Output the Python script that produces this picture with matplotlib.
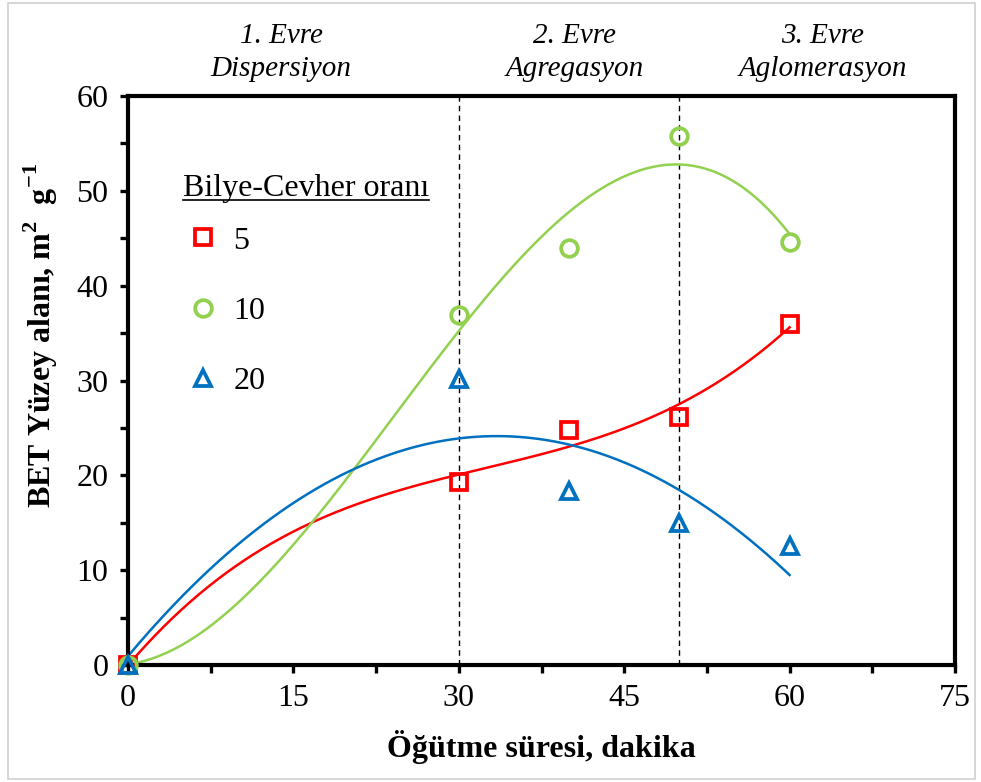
import numpy as np
import matplotlib
matplotlib.use("Agg")
import matplotlib.pyplot as plt
from matplotlib.ticker import MultipleLocator
from matplotlib.lines import Line2D
from matplotlib.patches import Rectangle

plt.rcParams['font.family'] = ['Liberation Serif', 'DejaVu Serif']
plt.rcParams['mathtext.fontset'] = 'custom'
plt.rcParams['mathtext.rm'] = 'Liberation Serif'
plt.rcParams['mathtext.bf'] = 'Liberation Serif:bold'

# Data
time_min = [0, 30, 40, 50, 60]
ratio_5 = [0.0, 19.3, 24.8, 26.1, 36.0]
ratio_10 = [0.0, 36.9, 44.0, 55.8, 44.6]
ratio_20 = [0.0, 30.2, 18.3, 15.0, 12.5]
series_labels = ['5', '10', '20']
legend_title = 'Bilye-Cevher oranı'
stage_x = [13.9, 40.5, 63]
stage_text = ['1. Evre\nDispersiyon', '2. Evre\nAgregasyon', '3. Evre\nAglomerasyon']
boundaries = [30, 50]

colors = ['#FF0000', '#92D050', '#0070C0']
markers = ['s', 'o', '^']
fit_deg = [3, 3, 2]

fig = plt.figure(figsize=(9.81, 7.82), dpi=100)
ax = fig.add_axes([128/981, 1 - 665/782, (955 - 128)/981, (665 - 96)/782])

xs = np.linspace(0, 60, 300)
handles = []
for ys, c, m, d, lab in zip([ratio_5, ratio_10, ratio_20], colors, markers, fit_deg, series_labels):
    p = np.polyfit(time_min, ys, d)
    ax.plot(xs, np.polyval(p, xs), color=c, lw=1.8, zorder=2)
    h, = ax.plot(time_min, ys, linestyle='none', marker=m, markersize=12,
                 markerfacecolor='none', markeredgecolor=c, markeredgewidth=2.7,
                 label=lab, zorder=3, clip_on=False)
    handles.append(h)

for b in boundaries:
    ax.axvline(b, color='black', lw=1.0, ls=(0, (4, 3)), zorder=1)

ax.set_xlim(0, 75)
ax.set_ylim(0, 60)
ax.xaxis.set_major_locator(MultipleLocator(15))
ax.xaxis.set_minor_locator(MultipleLocator(7.5))
ax.yaxis.set_major_locator(MultipleLocator(10))
ax.yaxis.set_minor_locator(MultipleLocator(5))
ax.tick_params(which='both', direction='out', length=6, width=2.4, labelsize=23,
               top=False, right=False)
ax.tick_params(axis='x', pad=8)
ax.tick_params(axis='y', pad=8)
for s in ax.spines.values():
    s.set_linewidth(3)

ax.set_xlabel('Öğütme süresi, dakika', fontsize=23, fontweight='bold')
ax.xaxis.set_label_coords(0.5, -0.115)
ax.set_ylabel(r'BET Yüzey alanı, m$^\mathbf{2}$  g$^\mathbf{-1}$', fontsize=23,
              fontweight='bold')
ax.yaxis.set_label_coords(-0.082, 0.58)

for sx, st in zip(stage_x, stage_text):
    ax.text(sx, 1.025, st, transform=ax.get_xaxis_transform(), ha='center', va='bottom',
            fontsize=21, style='italic', linespacing=1.35)

title = ax.text(0.0665, 0.837, legend_title, transform=ax.transAxes, ha='left',
                va='center', fontsize=23)

leg = ax.legend(handles=handles, loc='upper left', bbox_to_anchor=(0.0713, 0.771),
                frameon=False, fontsize=23, labelspacing=1.28, handlelength=1.0,
                handletextpad=0.45, borderaxespad=0, borderpad=0)

fig.patches.append(Rectangle((0.008, 0.004), 0.986, 0.992, transform=fig.transFigure,
                             fill=False, edgecolor='#d0d0d0', lw=1.2))

fig.canvas.draw()
bb = title.get_window_extent()
inv = fig.transFigure.inverted()
(x0, y0) = inv.transform((bb.x0, bb.y0 + 3))
(x1, _) = inv.transform((bb.x1, bb.y0 + 3))
fig.lines.append(Line2D([x0, x1], [y0, y0], transform=fig.transFigure, color='black', lw=1.2))

fig.savefig('out.png', dpi=100)
